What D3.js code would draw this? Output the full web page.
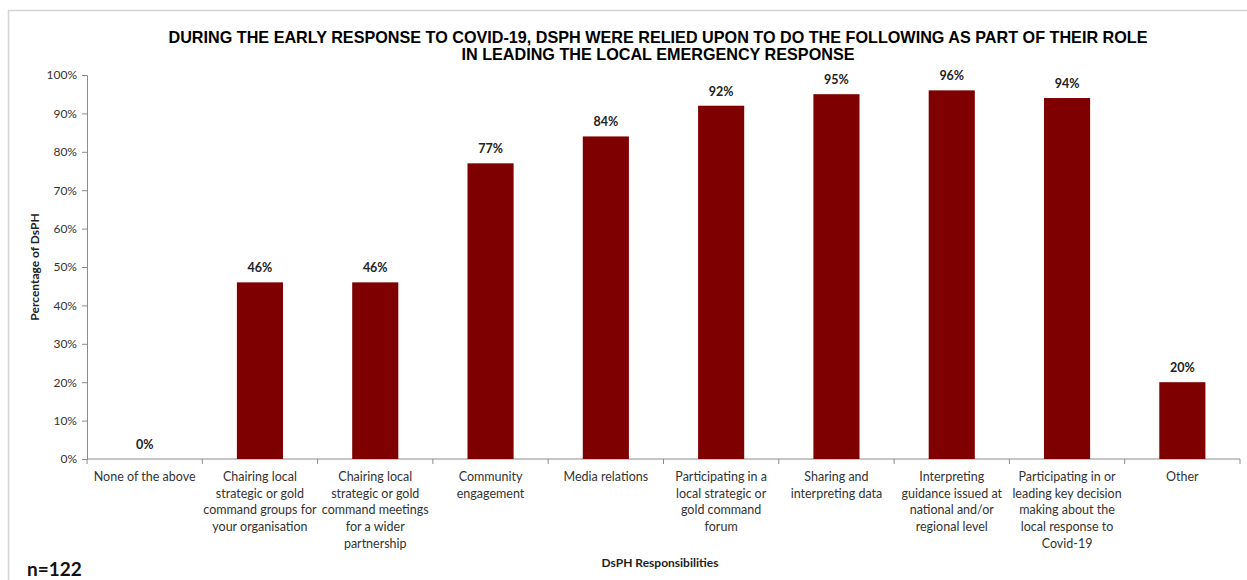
<!DOCTYPE html>
<html>
<head>
<meta charset="utf-8">
<script src="https://cdn.jsdelivr.net/npm/d3@7"></script>
<style>
  html, body { margin: 0; padding: 0; background: #fff; }
  svg { display: block; }
</style>
</head>
<body>
<svg id="chart" width="1247" height="580"></svg>
<script>
// Responsibilities DsPH were relied upon for during the early COVID-19 response
const categories = [
  ["None of the above"],
  ["Chairing local", "strategic  or gold", "command groups for", "your organisation"],
  ["Chairing local", "strategic or gold", "command meetings", "for a wider", "partnership"],
  ["Community", "engagement"],
  ["Media relations"],
  ["Participating in a", "local strategic or", "gold command", "forum"],
  ["Sharing and", "interpreting data"],
  ["Interpreting", "guidance issued at", "national and/or", "regional level"],
  ["Participating in or", "leading key decision", "making about the", "local response to", "Covid-19"],
  ["Other"]
];
const values = [0, 46, 46, 77, 84, 92, 95, 96, 94, 20];
const yTicks = [0, 10, 20, 30, 40, 50, 60, 70, 80, 90, 100];

const titleLines = [
  "DURING THE EARLY RESPONSE TO COVID-19, DSPH WERE RELIED UPON TO DO THE FOLLOWING AS PART OF THEIR ROLE",
  "IN LEADING THE LOCAL EMERGENCY RESPONSE"
];
const titleWidths = [979, 393];

const svg = d3.select("#chart");
const bodyFont = "Lato, 'Open Sans', sans-serif";
const barColor = "#7f0000";
const axisColor = "#8c8c8c";

// chart frame
svg.append("rect")
  .attr("x", 8.5).attr("y", 10.5)
  .attr("width", 1260).attr("height", 600)
  .attr("fill", "none").attr("stroke", "#d4d4d4").attr("stroke-width", 1.5);

const plot = { left: 87, right: 1240, top: 75, bottom: 459 };
const ids = d3.range(categories.length);

const x = d3.scaleBand().domain(ids).range([plot.left, plot.right]).paddingInner(0.6).paddingOuter(0.3);
const xOuter = d3.scaleBand().domain(ids).range([plot.left, plot.right]);
const y = d3.scaleLinear().domain([0, 100]).range([plot.bottom, plot.top]);

// title (condensed bold)
svg.append("g").selectAll("text").data(titleLines).join("text")
  .attr("x", 658).attr("y", (d, i) => 43 + i * 17)
  .attr("text-anchor", "middle")
  .attr("font-family", "'Liberation Sans Narrow', 'Liberation Sans', Arial, sans-serif")
  .attr("font-weight", "bold").attr("font-size", 16.5).attr("fill", "#000")
  .attr("textLength", (d, i) => titleWidths[i])
  .attr("lengthAdjust", "spacingAndGlyphs")
  .text(d => d);

// y axis
const yAxis = svg.append("g")
  .attr("transform", `translate(${plot.left},0)`)
  .call(d3.axisLeft(y).tickValues(yTicks).tickFormat(d => d + "%").tickSize(5).tickPadding(5));
yAxis.select(".domain").attr("stroke", axisColor);
yAxis.selectAll(".tick line").attr("stroke", axisColor);
yAxis.selectAll(".tick text")
  .attr("font-family", bodyFont).attr("font-size", 12).attr("fill", "#333");

// x axis: ticks at category boundaries
const xAxisG = svg.append("g").attr("transform", `translate(0,${plot.bottom})`);
xAxisG.append("line")
  .attr("x1", plot.left).attr("x2", plot.right)
  .attr("stroke", axisColor);
xAxisG.selectAll("line.tick").data(d3.range(categories.length + 1)).join("line")
  .attr("class", "tick")
  .attr("x1", i => i < categories.length ? xOuter(i) : plot.right)
  .attr("x2", i => i < categories.length ? xOuter(i) : plot.right)
  .attr("y1", 0).attr("y2", 5)
  .attr("stroke", axisColor);

// category labels
const catG = xAxisG.selectAll("text.cat").data(ids).join("text")
  .attr("class", "cat")
  .attr("x", i => x(i) + x.bandwidth() / 2)
  .attr("y", 22)
  .attr("text-anchor", "middle")
  .attr("font-family", bodyFont).attr("font-size", 12.5).attr("fill", "#333");
catG.selectAll("tspan").data(i => categories[i].map(t => ({ t, i }))).join("tspan")
  .attr("x", d => x(d.i) + x.bandwidth() / 2)
  .attr("dy", (d, j) => j === 0 ? 0 : 16.7)
  .text(d => d.t);

// bars
svg.append("g").selectAll("rect").data(ids).join("rect")
  .attr("x", i => x(i))
  .attr("y", i => y(values[i]))
  .attr("width", x.bandwidth())
  .attr("height", i => y(0) - y(values[i]))
  .attr("fill", barColor);

// value labels
svg.append("g").selectAll("text").data(ids).join("text")
  .attr("x", i => x(i) + x.bandwidth() / 2)
  .attr("y", i => y(values[i]) - 10)
  .attr("text-anchor", "middle")
  .attr("font-family", bodyFont).attr("font-weight", "bold")
  .attr("font-size", 12.5).attr("fill", "#222")
  .text(i => values[i] + "%");

// axis titles
svg.append("text")
  .attr("transform", `translate(39,${(plot.top + plot.bottom) / 2}) rotate(-90)`)
  .attr("text-anchor", "middle")
  .attr("font-family", bodyFont).attr("font-weight", "bold")
  .attr("font-size", 12).attr("fill", "#222")
  .text("Percentage of DsPH");

svg.append("text")
  .attr("x", 660).attr("y", 567)
  .attr("text-anchor", "middle")
  .attr("font-family", bodyFont).attr("font-weight", "bold")
  .attr("font-size", 12).attr("fill", "#222")
  .text("DsPH Responsibilities");

// sample size note
svg.append("text")
  .attr("x", 27).attr("y", 576)
  .attr("font-family", bodyFont).attr("font-weight", "bold")
  .attr("font-size", 19).attr("fill", "#111")
  .text("n=122");
</script>
</body>
</html>
